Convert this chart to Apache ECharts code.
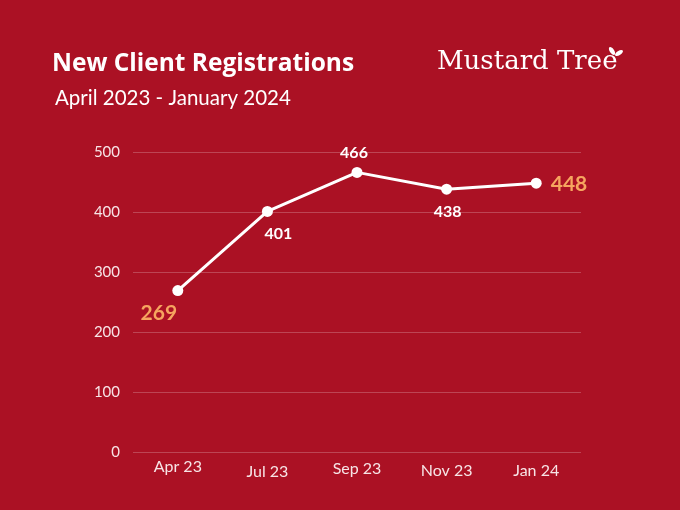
<!DOCTYPE html>
<html>
<head>
<meta charset="utf-8">
<script src="https://cdn.jsdelivr.net/npm/echarts@6/dist/echarts.min.js"></script>
<style>
  html, body { margin: 0; padding: 0; background: #ab1124; }
  #chart { width: 680px; height: 510px; }
</style>
</head>
<body>
<div id="chart"></div>
<script>
// data
let months = ["Apr 23", "Jul 23", "Sep 23", "Nov 23", "Jan 24"];
let registrations = [269, 401, 466, 438, 448];
let yTicks = [0, 100, 200, 300, 400, 500];

let orange = "#f6a55f";
let labelPos = ["bottomLeft", "bottomRight", "top", "bottom", "right"];
// the month labels sit a little uneven in the original
let monthDrop = [0, 5, 2, 4, 4];

function buildPoints() {
  let pts = [];
  for (let i = 0; i < registrations.length; i++) {
    let big = i == 0 || i == registrations.length - 1;
    let lab = {
      show: true,
      color: big ? orange : "#ffffff",
      fontSize: big ? 21 : 16,
      fontWeight: "bold",
      fontFamily: "Lato",
    };
    if (labelPos[i] == "bottomLeft") {
      lab.position = "bottom";
      lab.offset = [-19, 2];
    } else if (labelPos[i] == "bottomRight") {
      lab.position = "bottom";
      lab.offset = [11, 4];
    } else if (labelPos[i] == "bottom") {
      lab.position = "bottom";
      lab.offset = [1, 4];
    } else if (labelPos[i] == "top") {
      lab.position = "top";
      lab.offset = [-3, -1];
    } else {
      lab.position = "right";
      lab.offset = [4, 1];
    }
    pts.push({ value: registrations[i], label: lab });
  }
  return pts;
}

function buildMonths() {
  let out = [];
  for (let i = 0; i < months.length; i++) {
    out.push({ value: months[i], textStyle: { padding: [monthDrop[i], 0, 0, 0] } });
  }
  return out;
}

var myChart = echarts.init(document.getElementById("chart"));
var option;

option = {
  backgroundColor: "#ab1124",
  animation: false,
  title: [
    {
      text: "New Client Registrations",
      left: 47,
      top: 47,
      textStyle: { color: "#ffffff", fontSize: 24.5, fontWeight: "bold", fontFamily: "Open Sans" },
    },
    {
      text: "April 2023 - January 2024",
      left: 50,
      top: 83,
      textStyle: { color: "#ffffff", fontSize: 20.5, fontWeight: "normal", fontFamily: "Lato" },
    },
    {
      text: "Mustard Tree",
      left: 432,
      top: 44,
      textStyle: { color: "#ffffff", fontSize: 26, fontWeight: "normal", fontFamily: "DejaVu Serif" },
    },
  ],
  graphic: [
    {
      type: "ellipse",
      shape: { cx: 0, cy: 0, rx: 2.2, ry: 4.5 },
      x: 612, y: 51, rotation: 0.6,
      style: { fill: "#ffffff" },
    },
    {
      type: "ellipse",
      shape: { cx: 0, cy: 0, rx: 2.2, ry: 4.5 },
      x: 619, y: 53, rotation: -1.0,
      style: { fill: "#ffffff" },
    },
  ],
  grid: { left: 133, right: 99, top: 152, bottom: 58 },
  xAxis: {
    type: "category",
    data: buildMonths(),
    boundaryGap: true,
    axisLine: { show: false },
    axisTick: { show: false },
    axisLabel: { color: "#f7e4e6", fontSize: 16, fontFamily: "Lato", margin: 7 },
  },
  yAxis: {
    type: "value",
    min: yTicks[0],
    max: yTicks[yTicks.length - 1],
    interval: 100,
    axisLine: { show: false },
    axisTick: { show: false },
    axisLabel: { color: "#f7e4e6", fontSize: 15, fontFamily: "Lato", margin: 13 },
    splitLine: { lineStyle: { color: "rgba(255,255,255,0.22)", width: 1 } },
  },
  series: [
    {
      type: "line",
      data: buildPoints(),
      symbol: "circle",
      symbolSize: 11,
      itemStyle: { color: "#ffffff" },
      lineStyle: { color: "#ffffff", width: 3 },
    },
  ],
};

option && myChart.setOption(option);
</script>
</body>
</html>
